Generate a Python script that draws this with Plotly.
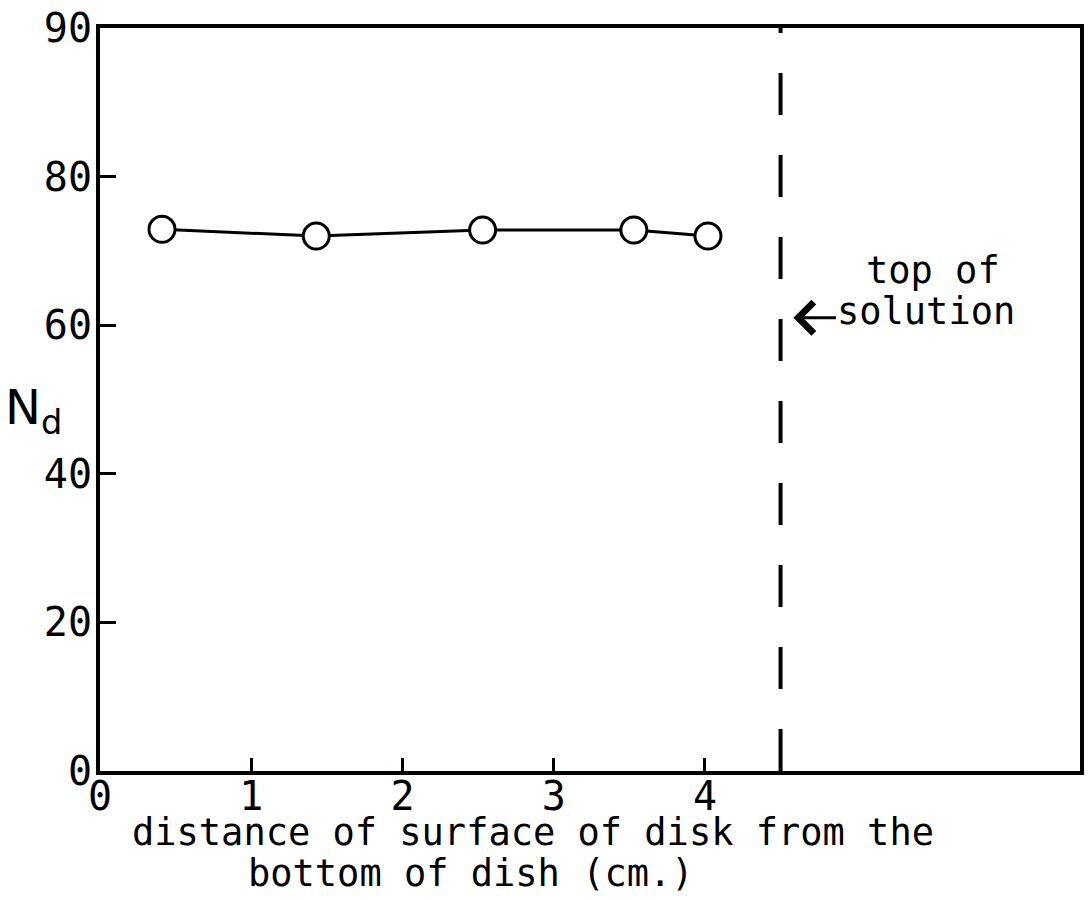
import plotly.graph_objects as go

# Measured N_d against the height of the disk surface above the dish bottom
depth_cm = [0.41, 1.43, 2.53, 3.53, 4.02]
n_d = [72.9, 72.0, 72.8, 72.8, 72.0]

# Level of the top of the solution (cm)
solution_top_cm = 4.5

x_ticks = [0, 1, 2, 3, 4]
y_ticks = [0, 20, 40, 60, 80, 100]
y_tick_text = ["0", "20", "40", "60", "80", "90"]

FONT = "DejaVu Sans Mono"
INK = "black"

fig = go.Figure()

fig.add_trace(go.Scatter(
    x=[solution_top_cm, solution_top_cm], y=[0, 100],
    mode="lines",
    line=dict(color=INK, width=4, dash="42px,40px"),
    hoverinfo="skip", showlegend=False,
))

fig.add_trace(go.Scatter(
    x=depth_cm, y=n_d,
    mode="lines+markers",
    line=dict(color=INK, width=3),
    marker=dict(symbol="circle", size=26, color="white",
                line=dict(color=INK, width=3)),
    showlegend=False,
))

fig.update_xaxes(
    range=[0, 6.48], tickvals=x_ticks, ticktext=[str(v) for v in x_ticks],
    showgrid=False, zeroline=False,
    showline=True, mirror=True, linecolor=INK, linewidth=4,
    ticks="inside", ticklen=13, tickwidth=3, tickcolor=INK,
    ticklabelstandoff=-13,
    tickfont=dict(family=FONT, size=40, color=INK),
)
fig.update_yaxes(
    range=[0, 100], tickvals=y_ticks, ticktext=y_tick_text,
    showgrid=False, zeroline=False,
    showline=True, mirror=True, linecolor=INK, linewidth=4,
    ticks="inside", ticklen=16, tickwidth=3, tickcolor=INK,
    ticklabelstandoff=-4,
    tickfont=dict(family=FONT, size=40, color=INK),
)

text_font = dict(family=FONT, size=37, color=INK)
annotations = [
    dict(x=2.86, y=-0.083, xref="x", yref="paper",
         text="distance of surface of disk from the", showarrow=False,
         font=text_font, xanchor="center", yanchor="middle"),
    dict(x=2.45, y=-0.138, xref="x", yref="paper",
         text="bottom of dish (cm.)", showarrow=False,
         font=text_font, xanchor="center", yanchor="middle"),
    dict(x=-0.068, y=48.5, xref="paper", yref="y",
         text="N<sub>d</sub>", showarrow=False,
         font=dict(family="DejaVu Sans", size=48, color=INK),
         xanchor="center", yanchor="middle"),
    dict(x=5.51, y=67.3, xref="x", yref="y",
         text="top of", showarrow=False,
         font=text_font, xanchor="center", yanchor="middle"),
    dict(x=5.46, y=61.8, xref="x", yref="y",
         text="solution", showarrow=False,
         font=text_font, xanchor="center", yanchor="middle"),
    # arrow pointing from the label to the dashed line
    dict(x=4.585, y=61.0, xref="x", yref="y",
         ax=44, ay=0, text="", showarrow=True,
         arrowhead=4, arrowsize=2.0, arrowwidth=3, arrowcolor=INK),
]

fig.update_layout(
    width=1089, height=900,
    margin=dict(l=100, r=5, t=27, b=129),
    paper_bgcolor="white", plot_bgcolor="white",
    annotations=annotations,
)

fig.write_html("out.html")
